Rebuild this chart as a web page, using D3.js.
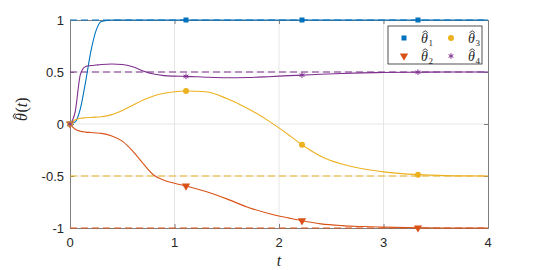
<!DOCTYPE html>
<html>
<head>
<meta charset="utf-8">
<script src="https://cdn.jsdelivr.net/npm/d3@7"></script>
<style>
  body { margin: 0; background: #fff; }
  svg { display: block; }
  .tick-label { font-family: "Liberation Sans", Arial, sans-serif; font-size: 13px; fill: #262626; }
  .math { font-family: "Liberation Serif", "DejaVu Serif", serif; font-style: italic; fill: #262626; }
</style>
</head>
<body>
<div id="draw-space"></div>
<script>
const tVals = [0, 0.05, 0.1, 0.15, 0.2, 0.25, 0.3, 0.4, 0.5, 0.6, 0.7, 0.8, 0.9, 1.0,
               1.11, 1.3, 1.5, 1.7, 1.9, 2.1, 2.22, 2.4, 2.6, 2.8, 3.0, 3.33, 3.6, 4.0];

const theta1 = [0, 0.02, 0.15, 0.41, 0.7, 0.9, 0.985, 1, 1, 1, 1, 1, 1, 1,
                1, 1, 1, 1, 1, 1, 1, 1, 1, 1, 1, 1, 1, 1];
const theta2 = [0, -0.05, -0.07, -0.078, -0.082, -0.086, -0.09, -0.115, -0.165, -0.26, -0.38, -0.49, -0.54, -0.57,
                -0.596, -0.65, -0.72, -0.8, -0.86, -0.905, -0.93, -0.96, -0.977, -0.986, -0.992, -0.998, -1, -1];
const theta3 = [0, 0.04, 0.056, 0.06, 0.063, 0.066, 0.07, 0.09, 0.13, 0.18, 0.23, 0.27, 0.295, 0.31,
                0.317, 0.31, 0.245, 0.15, 0.03, -0.11, -0.2, -0.31, -0.385, -0.43, -0.46, -0.487, -0.496, -0.5];
const theta4 = [0, 0.12, 0.48, 0.553, 0.562, 0.567, 0.572, 0.577, 0.572, 0.55, 0.51, 0.48, 0.465, 0.46,
                0.458, 0.45, 0.445, 0.447, 0.455, 0.465, 0.47, 0.478, 0.486, 0.492, 0.495, 0.498, 0.5, 0.5];

const targets = [1, -1, -0.5, 0.5];
const markerTimes = [0, 1.11, 2.22, 3.33];
const xTicks = [0, 1, 2, 3, 4];
const yTicks = [-1, -0.5, 0, 0.5, 1];
const yTickLabels = ['-1', '-0.5', '0', '0.5', '1'];

const series = [
  { name: '1', values: theta1, target: targets[0], color: '#0072BD', symbol: 'square' },
  { name: '2', values: theta2, target: targets[1], color: '#D95319', symbol: 'triangleDown' },
  { name: '3', values: theta3, target: targets[2], color: '#EDB120', symbol: 'circle' },
  { name: '4', values: theta4, target: targets[3], color: '#7E2F8E', symbol: 'asterisk' }
];

const width = 540, height = 270;
const svg = d3.select('#draw-space').append('svg')
              .attr('width', width)
              .attr('height', height);

const xScale = d3.scaleLinear().domain([0, 4]).range([70, 488]);
const yScale = d3.scaleLinear().domain([-1, 1]).range([228, 20]);

// grid
svg.append('g').selectAll('line')
   .data(xTicks.slice(1, -1))
   .enter().append('line')
   .attr('x1', d => xScale(d)).attr('x2', d => xScale(d))
   .attr('y1', yScale(-1)).attr('y2', yScale(1))
   .attr('stroke', '#e6e6e6').attr('stroke-width', 1);

svg.append('g').selectAll('line')
   .data(yTicks.slice(1, -1))
   .enter().append('line')
   .attr('x1', xScale(0)).attr('x2', xScale(4))
   .attr('y1', d => yScale(d)).attr('y2', d => yScale(d))
   .attr('stroke', '#e6e6e6').attr('stroke-width', 1);

// axes box
const xAxisB = d3.axisBottom(xScale).tickValues(xTicks).tickSize(-4).tickFormat('');
const xAxisT = d3.axisTop(xScale).tickValues(xTicks).tickSize(-4).tickFormat('');
const yAxisL = d3.axisLeft(yScale).tickValues(yTicks).tickSize(-4).tickFormat('');
const yAxisR = d3.axisRight(yScale).tickValues(yTicks).tickSize(-4).tickFormat('');

[[xAxisB, `translate(0,${yScale(-1)})`], [xAxisT, `translate(0,${yScale(1)})`],
 [yAxisL, `translate(${xScale(0)},0)`], [yAxisR, `translate(${xScale(4)},0)`]].forEach(([ax, tr]) => {
  const g = svg.append('g').attr('transform', tr).call(ax);
  g.select('.domain').attr('stroke', '#7f7f7f').attr('stroke-width', 1);
  g.selectAll('.tick line').attr('stroke', '#7f7f7f');
});

// tick labels
svg.append('g').selectAll('text')
   .data(xTicks)
   .enter().append('text')
   .attr('class', 'tick-label')
   .attr('x', d => xScale(d))
   .attr('y', 247)
   .attr('text-anchor', 'middle')
   .text(d => d);

svg.append('g').selectAll('text')
   .data(yTicks)
   .enter().append('text')
   .attr('class', 'tick-label')
   .attr('x', 64)
   .attr('y', d => yScale(d) + 4.5)
   .attr('text-anchor', 'end')
   .text((d, i) => yTickLabels[i]);

// theta with a hat, baseline at (x, y) inside group g; returns end x
function thetaHat(g, x, y, size) {
  const th = g.append('text')
              .attr('class', 'math')
              .attr('x', x).attr('y', y)
              .style('font-size', size + 'px')
              .text('\u03b8');
  const bb = th.node().getBBox();
  const cx = bb.x + bb.width * 0.6;
  const base = y - size * 0.74;
  const hw = size * 0.19;
  g.append('path')
   .attr('d', `M${cx - hw},${base} L${cx},${base - size * 0.13} L${cx + hw},${base}`)
   .attr('fill', 'none')
   .attr('stroke', '#262626')
   .attr('stroke-width', size * 0.06);
  return bb.x + bb.width;
}

// axis labels
svg.append('text')
   .attr('class', 'math')
   .attr('x', xScale(2))
   .attr('y', 266)
   .attr('text-anchor', 'middle')
   .style('font-size', '16px')
   .text('t');

const yLab = svg.append('g').attr('transform', 'translate(27,106) rotate(-90)');
const yEnd = thetaHat(yLab, -15, 0, 16);
const yParen = yLab.append('text')
                   .attr('class', 'math')
                   .attr('x', yEnd + 0.5).attr('y', 0)
                   .style('font-size', '16px')
                   .style('font-style', 'normal');
yParen.append('tspan').text('(');
yParen.append('tspan').style('font-style', 'italic').text('t');
yParen.append('tspan').text(')');

// target dashed lines
svg.append('g').selectAll('line')
   .data(series)
   .enter().append('line')
   .attr('x1', xScale(0)).attr('x2', xScale(4))
   .attr('y1', d => yScale(d.target)).attr('y2', d => yScale(d.target))
   .attr('stroke', d => d.color)
   .attr('stroke-width', 1)
   .attr('stroke-dasharray', '7,4');

// trajectories
const line = d3.line()
               .x((d, i) => xScale(tVals[i]))
               .y(d => yScale(d))
               .curve(d3.curveMonotoneX);

svg.append('g').selectAll('path')
   .data(series)
   .enter().append('path')
   .attr('d', d => line(d.values))
   .attr('fill', 'none')
   .attr('stroke', d => d.color)
   .attr('stroke-width', 1.1);

function drawMarker(g, s, x, y) {
  if (s.symbol === 'square') {
    g.append('rect').attr('x', x - 2.5).attr('y', y - 2.5).attr('width', 5).attr('height', 5)
     .attr('fill', s.color);
  } else if (s.symbol === 'circle') {
    g.append('circle').attr('cx', x).attr('cy', y).attr('r', 3).attr('fill', s.color);
  } else if (s.symbol === 'triangleDown') {
    g.append('path').attr('d', d3.symbol(d3.symbolTriangle, 30)())
     .attr('transform', `translate(${x},${y}) rotate(180)`)
     .attr('fill', s.color);
  } else {
    g.append('path').attr('d', d3.symbol(d3.symbolAsterisk, 22)())
     .attr('transform', `translate(${x},${y})`)
     .attr('fill', 'none').attr('stroke', s.color).attr('stroke-width', 1);
  }
}

const markerG = svg.append('g');
series.forEach(s => {
  markerTimes.forEach(mt => {
    const i = tVals.indexOf(mt);
    drawMarker(markerG, s, xScale(mt), yScale(s.values[i]));
  });
});

// legend
const legend = svg.append('g');
legend.append('rect')
      .attr('x', 388).attr('y', 26)
      .attr('width', 94).attr('height', 38)
      .attr('fill', '#fff')
      .attr('stroke', '#262626')
      .attr('stroke-width', 0.8);

const legendPos = [[404, 38], [404, 56], [451, 38], [451, 56]];
series.forEach((s, i) => {
  const [lx, ly] = legendPos[i];
  drawMarker(legend, s, lx, ly);
  const end = thetaHat(legend, lx + 17, ly + 5, 14);
  legend.append('text')
        .attr('class', 'math')
        .attr('x', end + 0.5).attr('y', ly + 8)
        .style('font-size', '9px')
        .style('font-style', 'normal')
        .text(s.name);
});
</script>
</body>
</html>
